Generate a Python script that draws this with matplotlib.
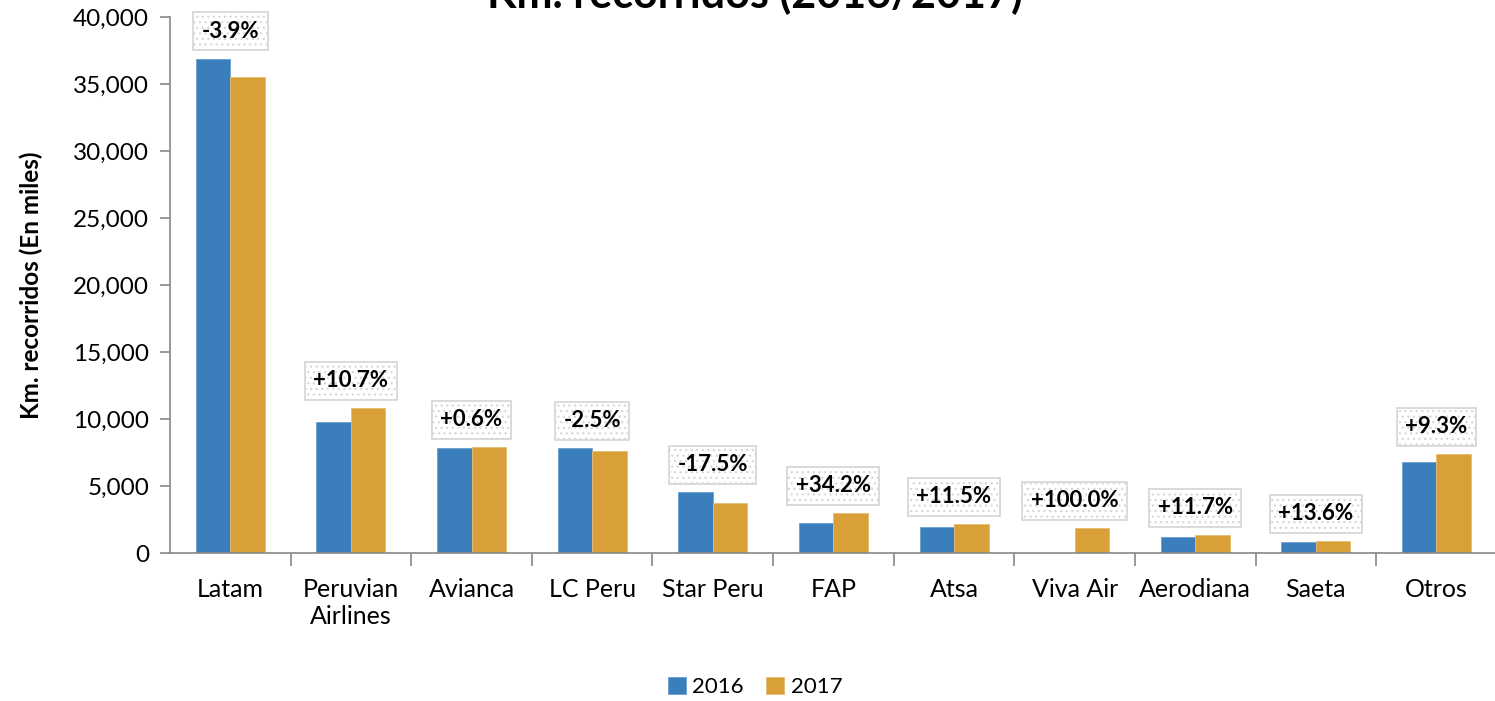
import numpy as np
import matplotlib
matplotlib.use('Agg')
import matplotlib.pyplot as plt
from matplotlib.ticker import FuncFormatter, FixedLocator

categories = ['Latam', 'Peruvian\nAirlines', 'Avianca', 'LC Peru', 'Star Peru', 'FAP',
              'Atsa', 'Viva Air', 'Aerodiana', 'Saeta', 'Otros']
km_2016 = [36900, 9780, 7840, 7840, 4550, 2240, 1940, 0, 1190, 820, 6790]
km_2017 = [35500, 10820, 7900, 7620, 3740, 2990, 2160, 1870, 1340, 900, 7400]
variacion = ['-3.9%', '+10.7%', '+0.6%', '-2.5%', '-17.5%', '+34.2%', '+11.5%',
             '+100.0%', '+11.7%', '+13.6%', '+9.3%']

plt.rcParams['font.family'] = ['Lato', 'DejaVu Sans']
plt.rcParams['hatch.linewidth'] = 0.9

fig = plt.figure(figsize=(14.95, 7.01), dpi=100)
ax = fig.add_axes([0.1137, 0.2111, 0.8875, 0.7646])

x = np.arange(len(categories))
w = 0.286
c16 = '#3a7fbb'
c17 = '#d9a03a'
ax.bar(x - w / 2, km_2016, w, color=c16, edgecolor='#6b9fcf', linewidth=0.6, label='2016')
ax.bar(x + w / 2, km_2017, w, color=c17, edgecolor='#e6bd70', linewidth=0.6, label='2017')

for i, lab in enumerate(variacion):
    top = max(km_2016[i], km_2017[i])
    ax.annotate(lab, xy=(x[i], top), xytext=(0, 12), textcoords='offset points',
                ha='center', va='bottom', fontsize=16, fontweight='bold',
                bbox=dict(boxstyle='square,pad=0.38', fc='white', ec='#d8d8d8',
                          lw=1.3, hatch='...'))

ax.set_xlim(-0.5, len(categories) - 0.5)
ax.set_ylim(0, 40000)
ax.set_yticks(np.arange(0, 40001, 5000))
ax.yaxis.set_major_formatter(FuncFormatter(lambda v, p: f'{int(v):,}'))
ax.set_xticks(x)
ax.set_xticklabels(categories, fontsize=18)
ax.xaxis.set_minor_locator(FixedLocator(np.arange(0.5, len(categories) - 0.5, 1)))
ax.tick_params(axis='x', which='major', length=0, pad=18)
ax.tick_params(axis='x', which='minor', length=9, color='#888888', width=1.2)
ax.tick_params(axis='y', length=7, color='#888888', width=1.2, labelsize=17.5, pad=8)

for s in ['top', 'right']:
    ax.spines[s].set_visible(False)
for s in ['left', 'bottom']:
    ax.spines[s].set_color('#888888')
    ax.spines[s].set_linewidth(1.2)

ax.set_ylabel('Km. recorridos (En miles)', fontsize=17.5, fontweight='bold', labelpad=22)

fig.text(0.505, 0.9886, 'Km. recorridos (2016/2017)', ha='center', va='baseline',
         fontsize=31, fontweight='bold')

fig.legend(loc='center', bbox_to_anchor=(0.505, 14 / 701), ncol=2, frameon=False,
           fontsize=16, handlelength=0.8, handleheight=0.8, handletextpad=0.3,
           columnspacing=1.0)

fig.savefig('out.png', dpi=100)
